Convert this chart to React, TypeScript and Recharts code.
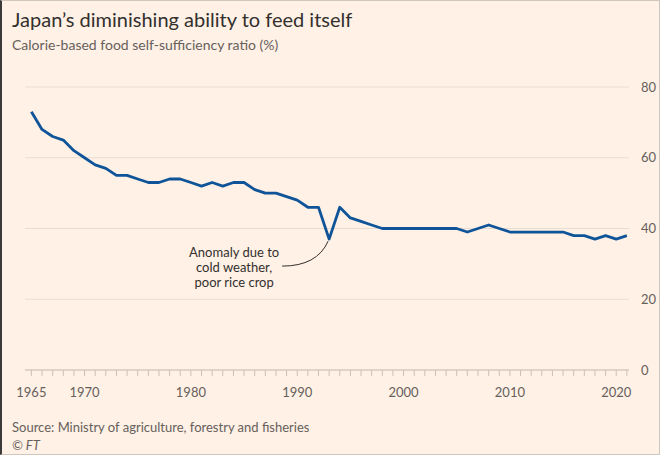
import { LineChart, Line, XAxis, YAxis, CartesianGrid, ReferenceDot } from "recharts";

const years = [
  1965, 1966, 1967, 1968, 1969, 1970, 1971, 1972, 1973, 1974, 1975, 1976, 1977, 1978, 1979,
  1980, 1981, 1982, 1983, 1984, 1985, 1986, 1987, 1988, 1989, 1990, 1991, 1992, 1993, 1994,
  1995, 1996, 1997, 1998, 1999, 2000, 2001, 2002, 2003, 2004, 2005, 2006, 2007, 2008, 2009,
  2010, 2011, 2012, 2013, 2014, 2015, 2016, 2017, 2018, 2019, 2020, 2021,
];
const ratio = [
  73, 68, 66, 65, 62, 60, 58, 57, 55, 55, 54, 53, 53, 54, 54,
  53, 52, 53, 52, 53, 53, 51, 50, 50, 49, 48, 46, 46, 37, 46,
  43, 42, 41, 40, 40, 40, 40, 40, 40, 40, 40, 39, 40, 41, 40,
  39, 39, 39, 39, 39, 39, 38, 38, 37, 38, 37, 38,
];
const yearLabels = [1965, 1970, 1980, 1990, 2000, 2010, 2020];
const yTicks = [0, 20, 40, 60, 80];
const anomalyYear = 1993;
const anomalyValue = 37;
const noteLines = ["Anomaly due to", "cold weather,", "poor rice crop"];

const data = years.map((year, i) => ({ year, value: ratio[i] }));

const FONT = "Lato, 'Open Sans', sans-serif";
const BG = "#FFF1E5";

// curved connector + note text, drawn relative to the dip
function AnomalyNote(props: any) {
  const { cx, cy } = props;
  if (cx == null || cy == null) return null;
  return (
    <g>
      <path
        d={`M ${cx - 47} ${cy + 27} Q ${cx - 12} ${cy + 27} ${cx - 1} ${cy + 2}`}
        fill="none"
        stroke="#33302e"
        strokeWidth={1}
      />
      {noteLines.map((t, i) => (
        <text
          key={i}
          x={cx - 95}
          y={cy + 18 + i * 15}
          textAnchor="middle"
          fontSize={13}
          fontFamily={FONT}
          fill="#33302e"
        >
          {t}
        </text>
      ))}
    </g>
  );
}

export default function App() {
  return (
    <div
      style={{
        position: "absolute",
        left: 0,
        top: 0,
        width: 660,
        height: 455,
        boxSizing: "border-box",
        background: BG,
        border: "1px solid #cfc6bd",
        borderLeft: "2px solid #3a3a3a",
        fontFamily: FONT,
        overflow: "hidden",
      }}
    >
      <div style={{ position: "absolute", left: 10, top: 6, fontSize: 20, color: "#33302e" }}>
        Japan’s diminishing ability to feed itself
      </div>
      <div style={{ position: "absolute", left: 10, top: 35, fontSize: 14, color: "#66605c" }}>
        Calorie-based food self-sufficiency ratio (%)
      </div>

      <div style={{ position: "absolute", left: -2, top: -1 }}>
        <LineChart
          width={660}
          height={410}
          data={data}
          margin={{ top: 87, right: 0, left: 25, bottom: 0 }}
        >
          <CartesianGrid horizontal vertical={false} stroke="#e9ddd2" />
          <XAxis
            dataKey="year"
            type="number"
            domain={[1964.4, 2021.2]}
            ticks={years}
            interval={0}
            tickFormatter={(v: number) => (yearLabels.includes(v) ? String(v) : "")}
            tick={{ fill: "#66605c", fontSize: 13, fontFamily: FONT }}
            stroke="#ccc1b7"
            tickSize={6}
            tickMargin={12}
            height={40}
          />
          <YAxis
            orientation="right"
            domain={[0, 80]}
            ticks={yTicks}
            axisLine={false}
            tickLine={false}
            width={31}
            tick={{ fill: "#66605c", fontSize: 13, fontFamily: FONT, textAnchor: "start" }}
            tickMargin={6}
          />
          <Line
            dataKey="value"
            stroke="#0f5499"
            strokeWidth={2.8}
            dot={false}
            isAnimationActive={false}
            strokeLinejoin="round"
          />
          <ReferenceDot
            x={anomalyYear}
            y={anomalyValue}
            r={0}
            shape={(p: any) => <AnomalyNote {...p} />}
          />
        </LineChart>
      </div>

      <div style={{ position: "absolute", left: 10, top: 418, fontSize: 13, color: "#66605c" }}>
        Source: Ministry of agriculture, forestry and fisheries
      </div>
      <div
        style={{
          position: "absolute",
          left: 10,
          top: 436,
          fontSize: 13,
          color: "#66605c",
          fontStyle: "italic",
        }}
      >
        © FT
      </div>
    </div>
  );
}
